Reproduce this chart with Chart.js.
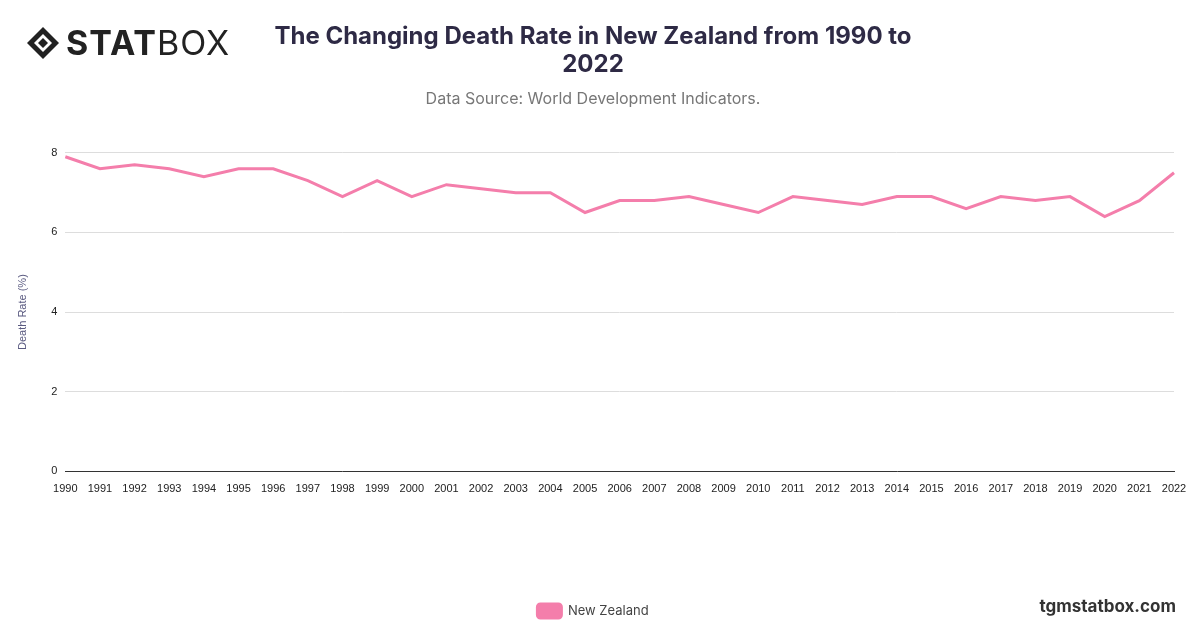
<!DOCTYPE html>
<html>
<head>
<meta charset="utf-8">
<script src="https://cdn.jsdelivr.net/npm/chart.js@4"></script>
<style>
  body { margin: 0; background: #fff; font-family: Inter, "Noto Sans", sans-serif; }
  #wrap { position: relative; width: 1200px; height: 628px; }
  #logo { position: absolute; left: 26px; top: 22px; font-size: 34px; color: #222; letter-spacing: 1px; display: flex; align-items: center; }
  #logo svg { margin-right: 6px; }
  #site { position: absolute; right: 24px; top: 596px; font-size: 17px; font-weight: 700; color: #333; }
</style>
</head>
<body>
<div id="wrap">
  <canvas id="c" width="1200" height="628"></canvas>
  <div id="logo">
    <svg width="34" height="34" viewBox="0 0 34 34"><path d="M17 1 L33 17 L17 33 L1 17 Z" fill="#222"/><path d="M17 8 L26 17 L17 26 L8 17 Z" fill="#fff"/><path d="M17 12 L22 17 L17 22 L12 17 Z" fill="#222"/></svg>
    <span><b>STAT</b>BOX</span>
  </div>
  <div id="site">tgmstatbox.com</div>
</div>
<script>
const years = ['1990','1991','1992','1993','1994','1995','1996','1997','1998','1999','2000','2001','2002','2003','2004','2005','2006','2007','2008','2009','2010','2011','2012','2013','2014','2015','2016','2017','2018','2019','2020','2021','2022'];
const deathRate = [7.9,7.6,7.7,7.6,7.4,7.6,7.6,7.3,6.9,7.3,6.9,7.2,7.1,7.0,7.0,6.5,6.8,6.8,6.9,6.7,6.5,6.9,6.8,6.7,6.9,6.9,6.6,6.9,6.8,6.9,6.4,6.8,7.5];
const seriesName = 'New Zealand';

new Chart(document.getElementById('c'), {
  type: 'line',
  data: {
    labels: years,
    datasets: [{
      label: seriesName,
      data: deathRate,
      borderColor: '#f47eab',
      backgroundColor: '#f47eab',
      borderWidth: 3,
      pointRadius: 0,
      tension: 0
    }]
  },
  options: {
    responsive: false,
    animation: false,
    layout: { padding: { left: 12, right: 26, top: 22, bottom: 0 } },
    plugins: {
      title: {
        display: true,
        text: ['The Changing Death Rate in New Zealand from 1990 to', '2022'],
        color: '#2e2a45',
        font: { size: 24, weight: 'bold', family: 'Inter' },
        padding: { top: 0, bottom: 10 }
      },
      subtitle: {
        display: true,
        text: 'Data Source: World Development Indicators.',
        color: '#777',
        font: { size: 16, family: 'Inter' },
        padding: { bottom: 44 }
      },
      legend: {
        position: 'bottom',
        title: { display: true, text: ' ', padding: { top: 83 } },
        labels: { boxWidth: 24, boxHeight: 14, color: '#444', font: { size: 13, family: 'Inter' }, padding: 8, useBorderRadius: true, borderRadius: 3 }
      },
      tooltip: { enabled: false }
    },
    scales: {
      x: {
        grid: { display: false },
        border: { color: '#333' },
        ticks: { color: '#222', font: { size: 11 }, maxRotation: 0, autoSkip: false }
      },
      y: {
        min: 0, max: 8,
        ticks: { stepSize: 2, color: '#222', font: { size: 11 }, padding: 8 },
        grid: { color: '#ddd', drawTicks: false },
        border: { display: false },
        title: { display: true, text: 'Death Rate (%)', color: '#5a5a80', font: { size: 11 }, padding: { bottom: 14 } }
      }
    }
  }
});
</script>
</body>
</html>
